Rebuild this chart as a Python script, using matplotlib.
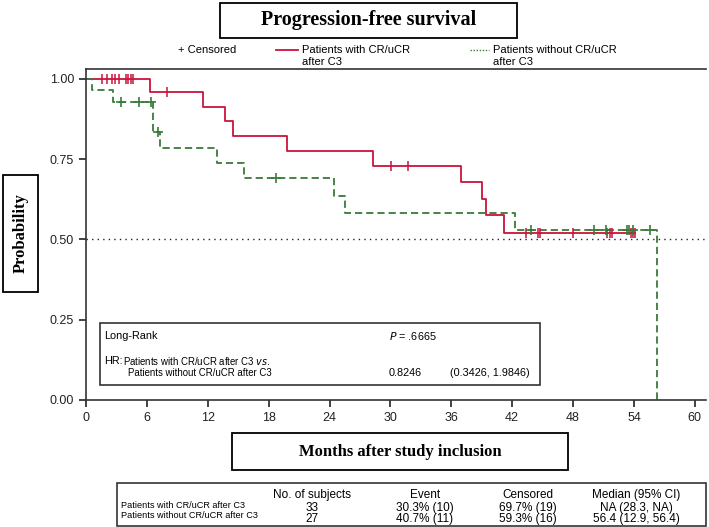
import numpy as np
import matplotlib
matplotlib.use("Agg")
import matplotlib.pyplot as plt
from matplotlib.patches import Rectangle
from matplotlib.lines import Line2D

plt.rcParams['font.family'] = ['Liberation Sans', 'DejaVu Sans']

W, H = 709, 527

# step curves (months, survival)
cr_times = [0, 6.3, 11.56, 13.7, 14.45, 19.77, 28.25, 36.95, 38.98, 39.4, 41.2, 54.1]
cr_surv = [1.0, 0.958, 0.9125, 0.868, 0.821, 0.776, 0.730, 0.678, 0.627, 0.575, 0.521, 0.521]
cr_cens = [1.6, 2.1, 2.6, 2.9, 3.25, 3.9, 4.15, 4.4, 4.65, 7.95, 30.05, 31.76,
           43.4, 44.5, 44.7, 48.0, 51.3, 51.6, 51.8, 53.7, 53.9, 54.1]

nocr_times = [0, 0.62, 2.63, 6.63, 7.3, 12.87, 15.57, 24.43, 25.5, 42.27, 56.3]
nocr_surv = [1.0, 0.966, 0.927, 0.835, 0.786, 0.7375, 0.69, 0.635, 0.582, 0.530, 0.0]
nocr_cens = [3.45, 5.2, 6.4, 7.06, 18.7, 43.9, 50.1, 51.2, 53.3, 53.5, 53.9, 55.6]

x_ticks = [0, 6, 12, 18, 24, 30, 36, 42, 48, 54, 60]
y_ticks = [0.0, 0.25, 0.50, 0.75, 1.00]

groups = ["Patients with CR/uCR after C3", "Patients without CR/uCR after C3"]
n_subjects = ["33", "27"]
events = ["30.3% (10)", "40.7% (11)"]
censored = ["69.7% (19)", "59.3% (16)"]
medians = ["NA (28.3, NA)", "56.4 (12.9, 56.4)"]

RED = "#c8143c"
GREEN = "#3a7a3a"


def fx(x):
    return x / W


def fy(y):
    return 1 - y / H


def surv_at(times, surv, t):
    i = np.searchsorted(times, t, side='right') - 1
    return np.array(surv)[i]


fig = plt.figure(figsize=(W / 100, H / 100), dpi=100)
ax = fig.add_axes([fx(86), fy(400), fx(706) - fx(86), fy(69) - fy(400)])

ax.step(cr_times, cr_surv, where='post', color=RED, lw=1.3)
ax.step(nocr_times, nocr_surv, where='post', color=GREEN, lw=1.3, ls=(0, (4, 2.2)))
ax.plot(cr_cens, surv_at(cr_times, cr_surv, cr_cens), '|', color=RED, ms=7, mew=1.1)
ax.plot(nocr_cens, surv_at(nocr_times, nocr_surv, nocr_cens), '+', color=GREEN, ms=6.5, mew=1.2)
ax.axhline(0.5, color='#222222', lw=1, ls=(0, (1, 3)))

ax.set_xlim(0, 61.1)
ax.set_ylim(0, 1.031)
ax.set_xticks(x_ticks)
ax.set_yticks(y_ticks)
ax.set_yticklabels([f"{v:.2f}" for v in y_ticks])
ax.tick_params(direction='out', length=5, width=1.2, labelsize=9, colors='#222222')
ax.spines['right'].set_visible(False)
for s in ['left', 'bottom', 'top']:
    ax.spines[s].set_linewidth(1.2)
    ax.spines[s].set_color('#333333')

# long-rank / HR box inside the plot
fig.patches.append(Rectangle((fx(100), fy(385)), fx(540) - fx(100), fy(323) - fy(385),
                             fill=False, ec='#333333', lw=1.2, transform=fig.transFigure))
fig.text(fx(104), fy(336), "Long-Rank", fontsize=7.8, va='center')
fig.text(fx(389), fy(336), "$\\it{P}$ = .6665", fontsize=7.8, va='center')
fig.text(fx(104), fy(361), "HR:", fontsize=7.8, va='center')
fig.text(fx(123), fy(361), "Patients with CR/uCR after C3 $\\it{vs.}$", fontsize=6.9, va='center')
fig.text(fx(128), fy(373), "Patients without CR/uCR after C3", fontsize=6.9, va='center')
fig.text(fx(389), fy(373), "0.8246", fontsize=7.8, va='center')
fig.text(fx(450), fy(373), "(0.3426, 1.9846)", fontsize=7.8, va='center')


def boxed(x0, y0, x1, y1, text, size, rot=0):
    fig.patches.append(Rectangle((fx(x0), fy(y1)), fx(x1) - fx(x0), fy(y0) - fy(y1),
                                 fill=False, ec='black', lw=1.3, transform=fig.transFigure))
    fig.text(fx((x0 + x1) / 2), fy((y0 + y1) / 2), text, ha='center', va='center',
             fontsize=size, fontweight='bold', family='Liberation Serif', rotation=rot)


boxed(220, 3, 517, 38, "Progression-free survival", 14.5)
boxed(232, 433, 568, 470, "Months after study inclusion", 12)
boxed(3, 175, 38, 292, "Probability", 12, rot=90)

# legend row
fig.text(fx(178), fy(50), "+ Censored", fontsize=8, va='center')
fig.lines.append(Line2D([fx(276), fx(298)], [fy(50), fy(50)], color=RED, lw=1.3,
                        transform=fig.transFigure))
fig.text(fx(302), fy(50), "Patients with CR/uCR", fontsize=8, va='center')
fig.text(fx(302), fy(62), "after C3", fontsize=8, va='center')
fig.lines.append(Line2D([fx(470), fx(489)], [fy(50), fy(50)], color=GREEN, lw=1,
                        ls=(0, (1, 1.2)), transform=fig.transFigure))
fig.text(fx(493), fy(50), "Patients without CR/uCR", fontsize=8, va='center')
fig.text(fx(493), fy(62), "after C3", fontsize=8, va='center')

# summary table
fig.patches.append(Rectangle((fx(117), fy(526)), fx(706) - fx(117), fy(483) - fy(526),
                             fill=False, ec='#333333', lw=1.2, transform=fig.transFigure))
col_x = [312, 425, 528, 636]
headers = ["No. of subjects", "Event", "Censored", "Median (95% CI)"]
for cx, h in zip(col_x, headers):
    fig.text(fx(cx), fy(495), h, fontsize=8.5, ha='center', va='center')
row_y = [508, 519]
label_y = [505, 515]
for i in range(2):
    fig.text(fx(121), fy(label_y[i]), groups[i], fontsize=6.6, va='center')
    for cx, v in zip(col_x, [n_subjects[i], events[i], censored[i], medians[i]]):
        fig.text(fx(cx), fy(row_y[i]), v, fontsize=8.5, ha='center', va='center')

fig.savefig("out.png", dpi=100)
